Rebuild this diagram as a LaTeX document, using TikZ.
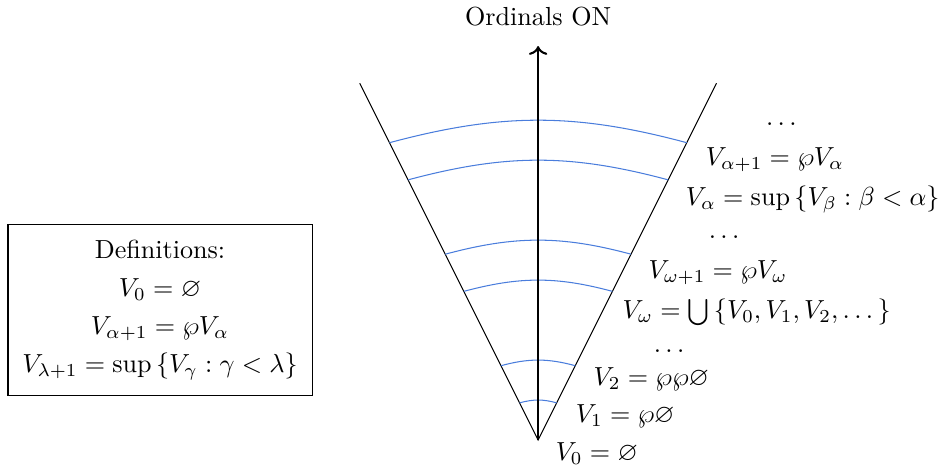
\documentclass[tikz,border=0pt]{standalone}
\usepackage{amsmath,amssymb}
\usepackage{tikz}
\usetikzlibrary{arrows.meta,positioning}
\definecolor{lvlblue}{RGB}{74,125,220}

\begin{document}
\begin{tikzpicture}[
          cone/.style={black},
          level/.style={lvlblue,thin},
          lbl/.style={anchor=base west,inner sep=0pt}]
        \useasboundingbox (-7.24,-0.363) rectangle (5.42,5.92);
        % cone and the ordinal axis
        \coordinate (apex) at (0,0);
        \coordinate (tl) at (-2.4,4.8);
        \coordinate (tr) at (2.4,4.8);
        \coordinate (top) at (0,5.3);
        \draw[cone] (tl) -- (apex) -- (tr);
        % stages of the hierarchy
        \foreach \h/\n in {0.5/1,1/2,2/3,2.5/4,3.5/5,4/6} {
          \coordinate (l\n) at (-\h/2,\h);
          \coordinate (r\n) at (\h/2,\h);
          \draw[level] (l\n) to[bend left=15] (r\n);
        }
        \draw[->,thick] (apex) -- (top);
        \node[above=0.14cm of top] (on) {Ordinals ON};
        % labels along the right edge
        \node[lbl] (v0) at (0.23,-0.28) {$V_0=\varnothing$};
        \node[lbl] (v1) at (0.50,0.24) {$V_1=\wp\varnothing$};
        \node[lbl] (v2) at (0.74,0.73) {$V_2=\wp\wp\varnothing$};
        \node[lbl] (d1) at (1.55,1.18) {$\dots$};
        \node[lbl] (vw) at (1.13,1.63) {$V_\omega=\bigcup\left\{V_0,V_1,V_2,\dots\right\}$};
        \node[lbl] (vw1) at (1.48,2.17) {$V_{\omega+1}=\wp V_\omega$};
        \node[lbl] (d2) at (2.29,2.71) {$\dots$};
        \node[lbl] (va) at (1.98,3.15) {$V_\alpha=\sup\left\{V_\beta:\beta<\alpha\right\}$};
        \node[lbl] (va1) at (2.25,3.69) {$V_{\alpha+1}=\wp V_\alpha$};
        \node[lbl] (d3) at (3.06,4.23) {$\dots$};
        % definitions box
        \node[draw,align=center,minimum width=4.09cm,minimum height=2.29cm]
          (defs) at (-5.087,1.75) {Definitions:\\[2.5pt]
            $V_0=\varnothing$\\[2.5pt]
            $V_{\alpha+1}=\wp V_\alpha$\\[2.5pt]
            $V_{\lambda+1}=\sup\left\{V_\gamma:\gamma<\lambda\right\}$};
      \end{tikzpicture}
\end{document}
